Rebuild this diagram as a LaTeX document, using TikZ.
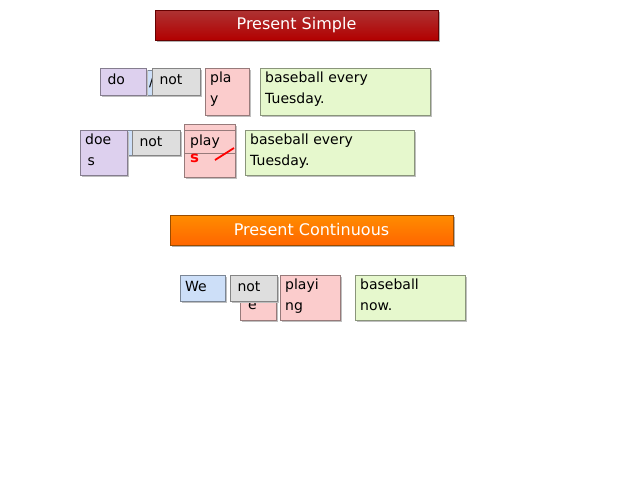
\documentclass[tikz,border=0pt]{standalone}
\usepackage{fontspec}
\setmainfont{DejaVu Sans}
\begin{document}
\begin{tikzpicture}[x=1pt,y=-1pt,
  title/.style={anchor=north west,inner sep=0pt,font=\fontsize{16}{18}\selectfont,text=white}]
\useasboundingbox (0,0) rectangle (640,480);
\definecolor{pur}{RGB}{221,208,238}
\definecolor{blu}{RGB}{205,223,248}
\definecolor{gry}{RGB}{222,222,222}
\definecolor{pnk}{RGB}{251,204,204}
\definecolor{grn}{RGB}{230,248,205}
% titles
\fill[black!30] (157,12) rectangle (440,42);
\shade[top color=red!60!black!80,bottom color=red!70!black, draw=red!40!black] (155,10) rectangle (438,40);
\node[title] (t1) at (296.5,25) [anchor=center] {Present Simple};
\fill[black!30] (172,217) rectangle (455,247);
\shade[top color=orange!90!yellow,bottom color=orange!80!red, draw=orange!60!black] (170,215) rectangle (453,245);
\node[title] (t2) at (311.5,230) [anchor=center] {Present Continuous};
\newcommand{\mybox}[8]{% name,x1,y1,x2,y2,color,text,dy
  \fill[black!25] (#2+1.5,#3+2) rectangle (#4+1.5,#5+2);
  \draw[draw=#6!60!black,fill=#6,line width=0.6pt] (#2,#3) rectangle (#4,#5);
  \node[anchor=north west,inner sep=0pt,align=left,font=\fontsize{14}{21}\selectfont] (#1) at (#2+5,#3+#8) {#7};}
% row 1
\mybox{b1}{130}{70}{170}{95}{blu}{\quad/}{6}
\mybox{do}{100}{68}{146}{95}{pur}{\,do}{6}
\mybox{not1}{152}{68}{200}{95}{gry}{\,not}{6}
\mybox{play1}{205}{68}{249}{115}{pnk}{pla\\y}{4}
\mybox{bb1}{260}{68}{430}{115}{grn}{baseball every\\Tuesday.}{4}
% row 2
\mybox{b2}{118}{130}{152}{155}{blu}{}{6}
\mybox{does}{80}{130}{127}{175}{pur}{doe\\\,s}{4}
\mybox{not2}{132}{130}{180}{155}{gry}{\,not}{6}
\mybox{play2}{184}{124}{235}{177}{pnk}{}{4}
\draw[draw=pnk!60!black,line width=0.6pt] (184,130) -- (235,130) (184,153) -- (235,153);
\node[anchor=north west,inner sep=0pt,font=\fontsize{14}{16}\selectfont] (pl) at (190,135) {play};
\node[anchor=north west,inner sep=0pt,font=\bfseries\fontsize{15}{16}\selectfont,text=red] (s) at (190,154) {s};
\draw[red,line width=1.8pt] (215,160) -- (234,148);
\mybox{bb2}{245}{130}{414}{175}{grn}{baseball every\\Tuesday.}{4}
% row 3
\mybox{we}{180}{275}{225}{301}{blu}{We}{6}
\mybox{e}{240}{288}{276}{320}{pnk}{}{4}
\node[anchor=north west,inner sep=0pt,font=\fontsize{14}{16}\selectfont] (ee) at (248,301) {e};
\mybox{not3}{230}{275}{277}{301}{gry}{\,not}{6}
\mybox{playing}{280}{275}{340}{320}{pnk}{playi\\ng}{4}
\mybox{bb3}{355}{275}{465}{320}{grn}{baseball\\now.}{4}
\end{tikzpicture}
\end{document}
